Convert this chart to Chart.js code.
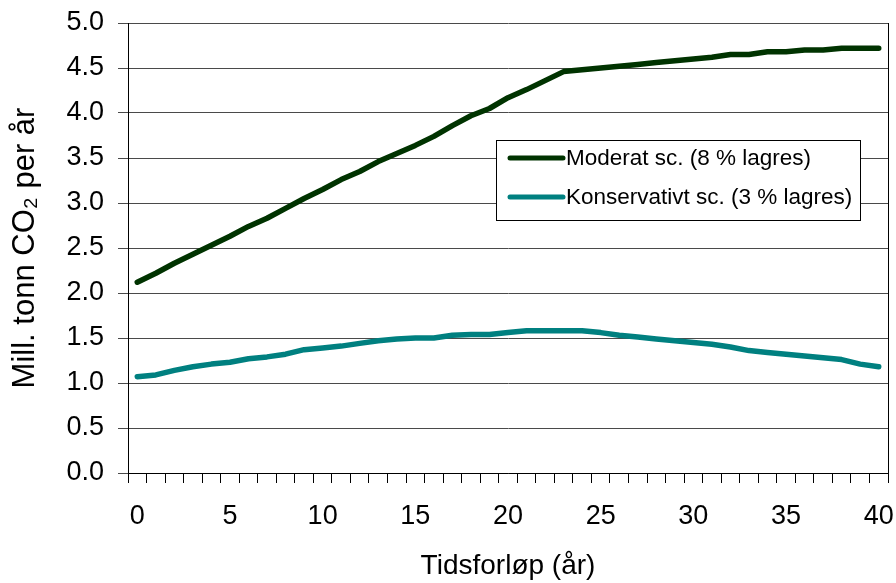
<!DOCTYPE html>
<html>
<head>
<meta charset="utf-8">
<script src="https://cdn.jsdelivr.net/npm/chart.js@4/dist/chart.umd.min.js"></script>
<style>
  html, body { margin: 0; padding: 0; background: #fff; }
  #wrap { width: 896px; height: 583px; }
</style>
</head>
<body>
<div id="wrap"><canvas id="co2Chart" width="896" height="583"></canvas></div>
<script>
// År (kategorier på x-aksen)
const years = ['0', '1', '2', '3', '4', '5', '6', '7', '8', '9', '10',
    '11', '12', '13', '14', '15', '16', '17', '18', '19', '20',
    '21', '22', '23', '24', '25', '26', '27', '28', '29', '30',
    '31', '32', '33', '34', '35', '36', '37', '38', '39', '40'];

// Moderat scenario (8 % lagres)
const moderat = [2.12, 2.22, 2.33, 2.43, 2.53, 2.63, 2.74, 2.83, 2.94, 3.05, 3.15,
    3.26, 3.35, 3.46, 3.55, 3.64, 3.74, 3.86, 3.97, 4.05, 4.17,
    4.26, 4.36, 4.46, 4.48, 4.50, 4.52, 4.54, 4.56, 4.58, 4.60,
    4.62, 4.65, 4.65, 4.68, 4.68, 4.70, 4.70, 4.72, 4.72, 4.72];

// Konservativt scenario (3 % lagres)
const konservativt = [1.07, 1.09, 1.14, 1.18, 1.21, 1.23, 1.27, 1.29, 1.32, 1.37, 1.39,
    1.41, 1.44, 1.47, 1.49, 1.50, 1.50, 1.53, 1.54, 1.54, 1.56,
    1.58, 1.58, 1.58, 1.58, 1.56, 1.53, 1.51, 1.49, 1.47, 1.45,
    1.43, 1.40, 1.36, 1.34, 1.32, 1.30, 1.28, 1.26, 1.21, 1.18];

const seriesLabels = ['Moderat sc. (8 % lagres)', 'Konservativt sc. (3 % lagres)'];
const seriesColors = ['#003300', '#008080'];

const FONT = 'Liberation Sans, Arial, sans-serif';

// Ramme på høyre side av plottområdet
const rightBorder = {
    id: 'rightBorder',
    beforeDatasetsDraw(chart) {
        const { ctx, chartArea } = chart;
        ctx.save();
        ctx.strokeStyle = '#000';
        ctx.lineWidth = 1;
        ctx.beginPath();
        ctx.moveTo(chartArea.right + 0.5, chartArea.top);
        ctx.lineTo(chartArea.right + 0.5, chartArea.bottom);
        ctx.stroke();
        ctx.restore();
    }
};

// Forklaring inne i plottområdet (som i Excel)
const boxLegend = {
    id: 'boxLegend',
    afterDatasetsDraw(chart) {
        const { ctx } = chart;
        const x = 496.5, y = 140.5, w = 364, h = 80;
        ctx.save();
        ctx.fillStyle = '#fff';
        ctx.fillRect(x, y, w, h);
        ctx.strokeStyle = '#000';
        ctx.lineWidth = 1;
        ctx.strokeRect(x, y, w, h);
        ctx.font = '22.5px ' + FONT;
        ctx.textBaseline = 'middle';
        ctx.lineCap = 'round';
        chart.data.datasets.forEach((ds, i) => {
            const rowY = 158 + i * 39;
            ctx.strokeStyle = ds.borderColor;
            ctx.lineWidth = 5;
            ctx.beginPath();
            ctx.moveTo(510, rowY);
            ctx.lineTo(563, rowY);
            ctx.stroke();
            ctx.fillStyle = '#000';
            ctx.fillText(ds.label, 566, rowY + 1);
        });
        ctx.restore();
    }
};

function drawChart() {
    const ctx = document.getElementById('co2Chart');
    new Chart(ctx, {
        type: 'line',
        data: {
            labels: years,
            datasets: [
                {
                    label: seriesLabels[0],
                    data: moderat,
                    borderColor: seriesColors[0],
                    backgroundColor: seriesColors[0],
                    borderWidth: 5.5,
                    borderCapStyle: 'round',
                    borderJoinStyle: 'round',
                    pointRadius: 0,
                    tension: 0
                },
                {
                    label: seriesLabels[1],
                    data: konservativt,
                    borderColor: seriesColors[1],
                    backgroundColor: seriesColors[1],
                    borderWidth: 5.5,
                    borderCapStyle: 'round',
                    borderJoinStyle: 'round',
                    pointRadius: 0,
                    tension: 0
                }
            ]
        },
        options: {
            responsive: false,
            animation: false,
            layout: { padding: { top: 23, right: 8, left: 0, bottom: 0 } },
            plugins: {
                legend: { display: false },
                tooltip: { enabled: false }
            },
            scales: {
                x: {
                    type: 'category',
                    offset: true,
                    afterFit(scale) {
                        scale.height = 110;
                        scale.paddingLeft = 0;
                        scale.paddingRight = 0;
                    },
                    grid: {
                        offset: true,
                        drawOnChartArea: false,
                        tickLength: 10,
                        color: '#000'
                    },
                    border: { color: '#000', width: 1 },
                    ticks: {
                        autoSkip: false,
                        maxRotation: 0,
                        padding: 17,
                        color: '#000',
                        font: { family: FONT, size: 27 },
                        callback: (value, index) => (index % 5 === 0 ? years[index] : '')
                    },
                    title: {
                        display: true,
                        text: 'Tidsforløp (år)',
                        color: '#000',
                        font: { family: FONT, size: 28 },
                        padding: { top: 0, bottom: 0 }
                    }
                },
                y: {
                    min: 0,
                    max: 5,
                    afterFit(scale) {
                        scale.width = 128;
                        scale.paddingTop = 0;
                        scale.paddingBottom = 0;
                    },
                    grid: {
                        color: '#4a4a4a',
                        lineWidth: 1,
                        tickLength: 10
                    },
                    border: { color: '#000', width: 1 },
                    ticks: {
                        stepSize: 0.5,
                        padding: 14,
                        color: '#000',
                        font: { family: FONT, size: 27 },
                        callback: (value) => value.toFixed(1)
                    },
                    title: {
                        display: true,
                        text: 'Mill. tonn CO₂ per år',
                        color: '#000',
                        font: { family: FONT, size: 31 },
                        padding: { top: 7, bottom: 0 }
                    }
                }
            }
        },
        plugins: [rightBorder, boxLegend]
    });
}

document.addEventListener('DOMContentLoaded', () => {
    drawChart();
});
</script>
</body>
</html>
